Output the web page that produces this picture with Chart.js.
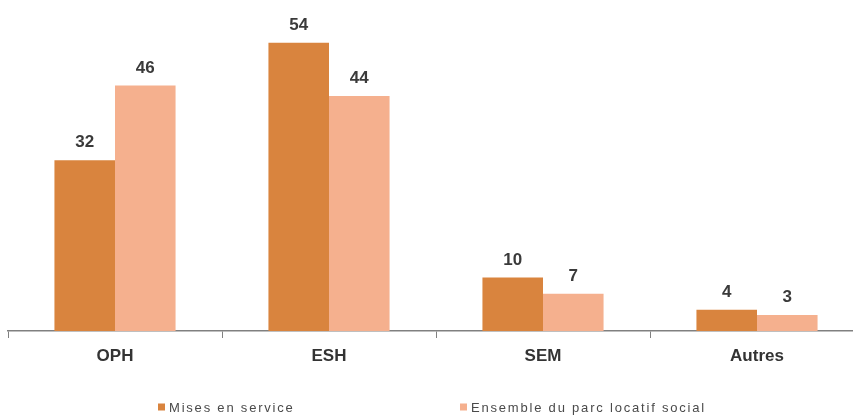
<!DOCTYPE html>
<html>
<head>
<meta charset="utf-8">
<script src="https://cdn.jsdelivr.net/npm/chart.js@4.4.1/dist/chart.umd.min.js"></script>
<style>
  html, body { margin: 0; padding: 0; background: #fff; overflow: hidden; }
  #wrap { width: 870px; height: 419px; }
</style>
</head>
<body>
<div id="wrap"><canvas id="graphique"></canvas></div>
<script>
// Catégories d'organismes et parts (%) par série
const categories = ['OPH', 'ESH', 'SEM', 'Autres'];
const misesEnService = [32, 54, 10, 4];
const parcLocatif = [46, 44, 7, 3];
const seriesNames = ['Mises en service', 'Ensemble du parc locatif social'];

const couleurFoncee = '#D9843E';
const couleurClaire = '#F5B08E';

// Valeurs affichées au-dessus des barres
const etiquettesValeurs = {
    id: 'etiquettesValeurs',
    afterDatasetsDraw(chart) {
        const ctx = chart.ctx;
        ctx.save();
        ctx.font = 'bold 17px "Liberation Sans", Arial, sans-serif';
        ctx.fillStyle = '#3a3a3a';
        ctx.textAlign = 'center';
        ctx.textBaseline = 'bottom';
        chart.data.datasets.forEach((ds, i) => {
            chart.getDatasetMeta(i).data.forEach((bar, j) => {
                ctx.fillText(String(ds.data[j]), bar.x, bar.y - 9);
            });
        });
        ctx.restore();
    }
};

// Légende dessinée à la main en bas
const legendeBas = {
    id: 'legendeBas',
    afterDraw(chart) {
        const ctx = chart.ctx;
        const positions = [158, 460];
        const y = 407;
        ctx.save();
        ctx.font = '13px "Liberation Sans", Arial, sans-serif';
        ctx.letterSpacing = '1.8px';
        ctx.textBaseline = 'middle';
        chart.data.datasets.forEach((ds, i) => {
            const x = positions[i];
            ctx.fillStyle = ds.backgroundColor;
            ctx.fillRect(x, y - 3.5, 7, 7);
            ctx.fillStyle = '#4a4a4a';
            ctx.fillText(ds.label, x + 11, y + 1);
        });
        ctx.restore();
    }
};

const ctx = document.getElementById('graphique').getContext('2d');
new Chart(ctx, {
    type: 'bar',
    data: {
        labels: categories,
        datasets: [
            { label: seriesNames[0], data: misesEnService, backgroundColor: couleurFoncee },
            { label: seriesNames[1], data: parcLocatif, backgroundColor: couleurClaire }
        ]
    },
    options: {
        responsive: true,
        maintainAspectRatio: false,
        animation: false,
        categoryPercentage: 0.566,
        barPercentage: 1,
        layout: { padding: { top: 0, left: 8, right: 6, bottom: 0 } },
        plugins: {
            legend: { display: false },
            tooltip: { enabled: false }
        },
        scales: {
            x: {
                afterFit(scale) { scale.height = 88; },
                border: { color: '#808080', width: 1.5 },
                grid: {
                    drawOnChartArea: false,
                    tickLength: 7,
                    color: '#808080'
                },
                ticks: {
                    color: '#333',
                    padding: 8,
                    font: { family: '"Liberation Sans", Arial, sans-serif', size: 17, weight: 'bold' }
                }
            },
            y: {
                display: false,
                min: 0,
                max: 62
            }
        }
    },
    plugins: [etiquettesValeurs, legendeBas]
});
</script>
</body>
</html>
